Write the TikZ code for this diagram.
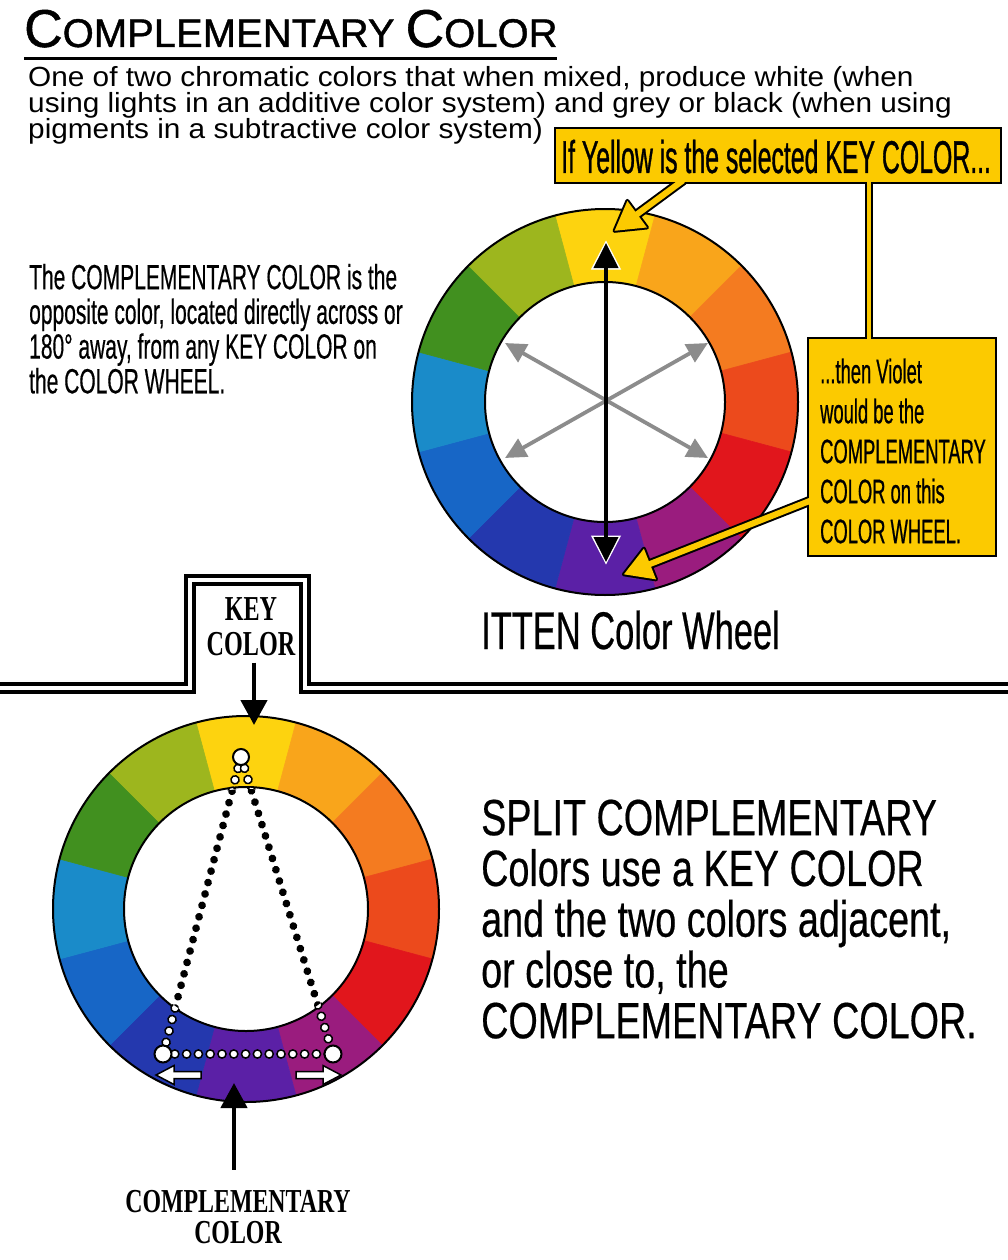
\documentclass[tikz,border=0pt]{standalone}
\usepackage{fontspec}
\setmainfont{Liberation Sans}
\newfontfamily\fTitle[FakeBold=1.0]{Liberation Sans}
\newfontfamily\fDef[FakeStretch=1.075]{Liberation Sans}
\newfontfamily\fCallA[FakeStretch=0.54,FakeBold=0.7]{Liberation Sans}
\newfontfamily\fCallB[FakeStretch=0.54,FakeBold=0.6]{Liberation Sans}
\newfontfamily\fLeft[FakeStretch=0.60,FakeBold=0.4]{Liberation Sans}
\newfontfamily\fMid[FakeStretch=0.65,FakeBold=0.4]{Liberation Sans}
\newfontfamily\fSplit[FakeStretch=0.74,FakeBold=0.4]{Liberation Sans}
\newfontfamily\fKey[FakeStretch=0.69]{Liberation Serif Bold}
\newfontfamily\fComp[FakeStretch=0.712]{Liberation Serif Bold}
\usetikzlibrary{arrows.meta,calc,decorations.markings}
\newcommand\tightlines{\lineskiplimit=-100pt\relax}

\definecolor{wY}{HTML}{FDD30F}
\definecolor{wYO}{HTML}{F9A51B}
\definecolor{wO}{HTML}{F47B20}
\definecolor{wRO}{HTML}{EC4A1C}
\definecolor{wR}{HTML}{E1161C}
\definecolor{wRV}{HTML}{9A1C7E}
\definecolor{wV}{HTML}{5B20A6}
\definecolor{wBV}{HTML}{2438AE}
\definecolor{wB}{HTML}{1766C6}
\definecolor{wBG}{HTML}{1A8BC9}
\definecolor{wG}{HTML}{41901F}
\definecolor{wYG}{HTML}{9DB61E}
\definecolor{gold}{HTML}{FCCA00}
\definecolor{greyarrow}{HTML}{8C8C8C}

\newcommand\colwheel[3]{%
  \foreach \wc [count=\i from 0] in {wY,wYO,wO,wRO,wR,wRV,wV,wBV,wB,wBG,wG,wYG} {
    \pgfmathsetmacro\aA{-105+30*\i}
    \pgfmathsetmacro\aB{-75+30*\i}
    \fill[\wc, draw=\wc, line width=0.6] ($(#1)+(\aA:#2)$) arc[start angle=\aA, end angle=\aB, radius=#2]
      -- ($(#1)+(\aB:#3)$) arc[start angle=\aB, end angle=\aA, radius=#3] -- cycle;
  }
  \fill[white] (#1) circle[radius=#3];
  \draw[line width=2] (#1) circle[radius=#2];
  \draw[line width=2] (#1) circle[radius=#3];
}

% #1 name, #2 start, #3 tip, #4 shaft half width, #5 head length, #6 head half width, #7 options
\newcommand\fatarrow[7]{%
  \coordinate (#1b) at ($(#3)!#5pt!(#2)$);
  \path[#7] ($(#2)!#4pt!90:(#3)$) -- ($(#1b)!#4pt!90:(#3)$) -- ($(#1b)!#6pt!90:(#3)$) -- (#3)
    -- ($(#1b)!#6pt!-90:(#3)$) -- ($(#1b)!#4pt!-90:(#3)$) -- ($(#2)!#4pt!-90:(#3)$) -- cycle;
}

\begin{document}
\begin{tikzpicture}[x=1pt,y=-1pt,
  blackdbl/.style={line width=4,
    {Triangle[length=25pt,width=24pt]}-{Triangle[length=25pt,width=24pt]}},
  whitehalo/.style={draw=white, line width=1,
    {Triangle[length=29pt,width=30pt]}-{Triangle[length=29pt,width=30pt]}},
  greyarr/.style={draw=greyarrow, line width=3.8,
    {Triangle[length=21pt,width=20pt]}-{Triangle[length=21pt,width=20pt]}},
  keyarr/.style={line width=4.5, -{Triangle[length=25pt,width=26pt]}},
  holedot/.style={circle, draw=black, line width=2, fill=white, minimum size=17, inner sep=0},
  whitedots/.style={decorate, decoration={markings,
    mark=between positions 0 and 1 step 11.8pt with {\filldraw[fill=white,draw=black,line width=1.5pt] (0,0) circle (4.1pt);}}},
  blackdots/.style={decorate, decoration={markings,
    mark=between positions 0 and 1 step 11.8pt with {\fill[black] (0,0) circle (3.9pt);}}},
  sepline/.style={line width=4, double=white, double distance=4.5, line join=miter}
]
\useasboundingbox (0,0) rectangle (1008,1260);
\fill[white] (0,0) rectangle (1008,1260);

% ---------- title and definition ----------
\node[anchor=base west, inner sep=0, font=\fTitle] (title) at (24,47)
  {\fontsize{53.3}{53}\selectfont C\fontsize{40}{40}\selectfont OMPLEMENTARY \fontsize{53.3}{53}\selectfont C\fontsize{40}{40}\selectfont OLOR};
\draw[line width=3] (title.south west |- 0,58.5) -- (557,58.5);

\node[anchor=north west, inner sep=0, align=left,
  font={\fDef\fontsize{27.7}{26.1}\selectfont\tightlines}] (def) at (28,58.3)
  {\rule{0pt}{27.7pt}One of two chromatic colors that when mixed, produce white (when\\
   using lights in an additive color system) and grey or black (when using\\
   pigments in a subtractive color system)};

\node[anchor=north west, inner sep=0, align=left,
  font={\fLeft\fontsize{35}{34.7}\selectfont\tightlines}] (lefttxt) at (29,254)
  {\rule{0pt}{35pt}The COMPLEMENTARY COLOR is the\\
   opposite color, located directly across or\\
   180° away, from any KEY COLOR on\\
   the COLOR WHEEL.};

% ---------- top wheel ----------
\coordinate (w1) at (605,402);
\colwheel{w1}{193}{120}

\coordinate (g1) at (505,343);
\coordinate (g2) at (708,458);
\coordinate (g3) at (505,458);
\coordinate (g4) at (708,343);
\draw[greyarr] (g1) -- (g2);
\draw[greyarr] (g3) -- (g4);

\coordinate (kt) at (606,243);
\coordinate (kb) at (606,562);
\draw[whitehalo] ($(kt)+(0,-2.5)$) -- ($(kb)+(0,2.5)$);
\draw[blackdbl] (kt) -- (kb);

% ---------- callouts ----------
\coordinate (b1nw) at (556,129);
\coordinate (b1se) at (1000,182);
\coordinate (b2nw) at (809,339);
\coordinate (b2se) at (995,555);
\coordinate (bar1) at (867,178);
\coordinate (bar2) at (871,343);
\coordinate (S1) at (683,180.4);
\coordinate (T1) at (614.6,230.8);
\coordinate (S2) at (812.6,499.8);
\coordinate (T2) at (623.9,574.3);

\draw[line width=4] (b1nw) rectangle (b1se);
\draw[line width=4] (b2nw) rectangle (b2se);
\draw[line width=4] (bar1) rectangle (bar2);
\fatarrow{a1}{S1}{T1}{3}{28}{16.5}{draw=black, line width=4, line join=round}
\fatarrow{a2}{S2}{T2}{3}{28}{16.5}{draw=black, line width=4, line join=round}
\fill[gold] (b1nw) rectangle (b1se);
\fill[gold] (b2nw) rectangle (b2se);
\fill[gold] (bar1) rectangle (bar2);
\fatarrow{a1}{S1}{T1}{3}{28}{16.5}{fill=gold}
\fatarrow{a2}{S2}{T2}{3}{28}{16.5}{fill=gold}

\node[anchor=base west, inner sep=0, font={\fCallA\fontsize{46}{46}\selectfont}] (t1) at (561,173)
  {If Yellow is the selected KEY COLOR...};
\node[anchor=north west, inner sep=0, align=left,
  font={\fCallB\fontsize{34}{40}\selectfont\tightlines}] (t2) at (820,349)
  {\rule{0pt}{34pt}...then Violet\\would be the\\COMPLEMENTARY\\COLOR on this\\COLOR WHEEL.};

\node[anchor=base west, inner sep=0, font={\fMid\fontsize{53}{53}\selectfont}] (itten) at (481,649)
  {ITTEN Color Wheel};

% ---------- separator ----------
\draw[sepline] (-10,688) -- (190,688) -- (190,580) -- (305,580) -- (305,688) -- (1020,688);

% ---------- bottom wheel ----------
\coordinate (w2) at (246,909);
\colwheel{w2}{193}{122}

\coordinate (tcp) at (241,757);
\coordinate (lcp) at (163,1054);
\coordinate (rcp) at (333,1054);
\path[whitedots] (tcp) -- (lcp);
\path[whitedots] (tcp) -- (rcp);
\path[whitedots] (lcp) -- (rcp);
\begin{scope}
  \clip (w2) circle[radius=120];
  \fill[white] (w2) circle[radius=121];
  \path[blackdots] (tcp) -- (lcp);
  \path[blackdots] (tcp) -- (rcp);
\end{scope}
\node[holedot, minimum size=16] (tc) at (tcp) {};
\node[holedot] (lc) at (lcp) {};
\node[holedot] (rc) at (rcp) {};

\coordinate (la1) at (201,1075);
\coordinate (la2) at (156,1075);
\coordinate (ra1) at (296,1075);
\coordinate (ra2) at (341,1075);
\fatarrow{la}{la1}{la2}{3.5}{18}{9.5}{draw=black, fill=white, line width=1.5, line join=miter}
\fatarrow{ra}{ra1}{ra2}{3.5}{18}{9.5}{draw=black, fill=white, line width=1.5, line join=miter}

\node[anchor=north, inner sep=0, align=center,
  font={\fKey\fontsize{35}{35}\selectfont\tightlines}] (key) at (251,585)
  {\rule{0pt}{35pt}KEY\\COLOR};
\coordinate (kct) at (254,725);
\draw[keyarr] ($(key.south)+(3,7)$) -- (kct);

\node[anchor=north, inner sep=0, align=center,
  font={\fComp\fontsize{33.5}{31.5}\selectfont\tightlines}] (comp) at (238,1178.5)
  {\rule{0pt}{33.5pt}COMPLEMENTARY\\COLOR};
\coordinate (cct) at (234,1083);
\draw[keyarr] ($(comp.north)+(-4,-9)$) -- (cct);

\node[anchor=north west, inner sep=0, align=left,
  font={\fSplit\fontsize{51}{50.75}\selectfont\tightlines}] (split) at (481,784)
  {\rule{0pt}{51pt}SPLIT COMPLEMENTARY\\
   Colors use a KEY COLOR\\
   and the two colors adjacent,\\
   or close to, the\\
   COMPLEMENTARY COLOR.};
\end{tikzpicture}
\end{document}
